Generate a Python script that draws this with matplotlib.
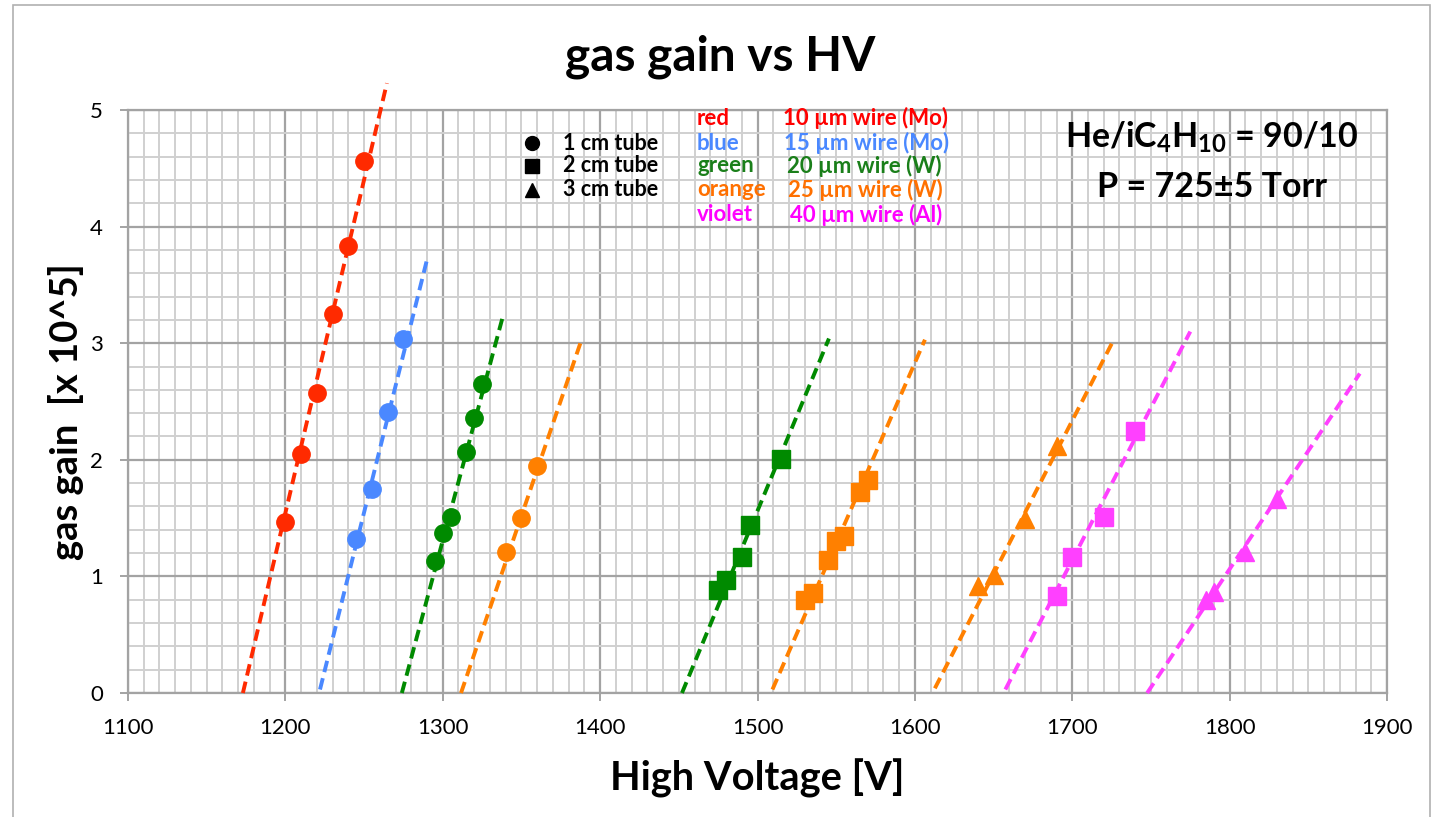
import numpy as np
import matplotlib.pyplot as plt
from matplotlib.patches import Rectangle
from matplotlib.ticker import MultipleLocator

plt.rcParams['font.family'] = ['Lato', 'DejaVu Sans']
plt.rcParams['mathtext.fontset'] = 'custom'
plt.rcParams['mathtext.rm'] = 'Lato:bold'
plt.rcParams['mathtext.it'] = 'Lato:bold'
plt.rcParams['mathtext.bf'] = 'Lato:bold'

# measured points: high voltage [V] and gas gain [x 10^5]
red_circ_v = [1200, 1210, 1220, 1230, 1240, 1250]
red_circ_g = [1.47, 2.05, 2.57, 3.25, 3.83, 4.56]

blue_circ_v = [1245, 1255, 1265, 1275]
blue_circ_g = [1.32, 1.75, 2.41, 3.04]

green_circ_v = [1295, 1300, 1305, 1315, 1320, 1325]
green_circ_g = [1.13, 1.37, 1.51, 2.07, 2.36, 2.65]

orange_circ_v = [1340, 1350, 1360]
orange_circ_g = [1.21, 1.50, 1.95]

green_sq_v = [1475, 1480, 1490, 1495, 1515]
green_sq_g = [0.88, 0.97, 1.17, 1.44, 2.01]

orange_sq_v = [1530, 1535, 1545, 1550, 1555, 1565, 1570]
orange_sq_g = [0.80, 0.86, 1.14, 1.30, 1.35, 1.72, 1.83]

orange_tri_v = [1640, 1650, 1670, 1690]
orange_tri_g = [0.92, 1.01, 1.49, 2.12]

violet_sq_v = [1690, 1700, 1720, 1740]
violet_sq_g = [0.83, 1.17, 1.51, 2.25]

violet_tri_v = [1785, 1790, 1810, 1830]
violet_tri_g = [0.80, 0.87, 1.21, 1.66]

# linear trendlines (start / end)
red_circ_fit_v, red_circ_fit_g = [1173, 1264.5], [0.0, 5.23]
blue_circ_fit_v, blue_circ_fit_g = [1222, 1290.6], [0.03, 3.75]
green_circ_fit_v, green_circ_fit_g = [1274, 1337.8], [0.0, 3.21]
orange_circ_fit_v, orange_circ_fit_g = [1311.6, 1388.2], [0.0, 3.03]
green_sq_fit_v, green_sq_fit_g = [1452, 1545.4], [0.0, 3.04]
orange_sq_fit_v, orange_sq_fit_g = [1509.5, 1606.4], [0.03, 3.03]
orange_tri_fit_v, orange_tri_fit_g = [1612.7, 1726], [0.04, 3.02]
violet_sq_fit_v, violet_sq_fit_g = [1657.5, 1775], [0.03, 3.10]
violet_tri_fit_v, violet_tri_fit_g = [1747.6, 1882.7], [0.0, 2.74]

RED = '#ff2a00'
BLUE = '#4a88ff'
GREEN = '#008a00'
ORANGE = '#ff8000'
VIOLET = '#ff40ff'

series = [
    (red_circ_v, red_circ_g, red_circ_fit_v, red_circ_fit_g, RED, 'o'),
    (blue_circ_v, blue_circ_g, blue_circ_fit_v, blue_circ_fit_g, BLUE, 'o'),
    (green_circ_v, green_circ_g, green_circ_fit_v, green_circ_fit_g, GREEN, 'o'),
    (orange_circ_v, orange_circ_g, orange_circ_fit_v, orange_circ_fit_g, ORANGE, 'o'),
    (green_sq_v, green_sq_g, green_sq_fit_v, green_sq_fit_g, GREEN, 's'),
    (orange_sq_v, orange_sq_g, orange_sq_fit_v, orange_sq_fit_g, ORANGE, 's'),
    (orange_tri_v, orange_tri_g, orange_tri_fit_v, orange_tri_fit_g, ORANGE, '^'),
    (violet_sq_v, violet_sq_g, violet_sq_fit_v, violet_sq_fit_g, VIOLET, 's'),
    (violet_tri_v, violet_tri_g, violet_tri_fit_v, violet_tri_fit_g, VIOLET, '^'),
]

fig = plt.figure(figsize=(14.41, 8.17), dpi=100)
ax = fig.add_axes([128 / 1441, 1 - 693 / 817, 1259 / 1441, 583 / 817])

for v, g, fv, fg, col, mk in series:
    ax.plot(fv, fg, ls=(0, (3, 1.6)), lw=2.8, color=col, zorder=3, clip_on=False)
    ax.plot(v, g, ls='none', marker=mk, ms=12.5, color=col, mec=col, zorder=4)

ax.set_xlim(1100, 1900)
ax.set_ylim(0, 5)
ax.xaxis.set_major_locator(MultipleLocator(100))
ax.xaxis.set_minor_locator(MultipleLocator(10))
ax.yaxis.set_major_locator(MultipleLocator(1))
ax.yaxis.set_minor_locator(MultipleLocator(0.2))
ax.grid(which='minor', color='#d0d0d0', lw=1.4, zorder=0)
ax.grid(which='major', color='#a3a3a3', lw=1.6, zorder=1)
ax.set_axisbelow(True)
for sp in ax.spines.values():
    sp.set_color('#a3a3a3')
    sp.set_linewidth(1.6)
ax.tick_params(which='major', length=6, width=1.4, color='#a3a3a3', labelsize=16, pad=12)
ax.tick_params(which='minor', length=0)

ax.set_xlabel('High Voltage [V]', fontsize=28.7, fontweight='bold', va='center')
ax.set_ylabel('gas gain  [x 10^5]', fontsize=27.5, fontweight='bold', va='center')
ax.xaxis.set_label_coords(0.5, -0.146)
ax.yaxis.set_label_coords(-0.049, 0.482)

fig.text(0.5, 0.930, 'gas gain vs HV', fontsize=34.5, fontweight='bold', ha='center', va='center')

# marker shape legend
shape_labels = ['1 cm tube', '2 cm tube', '3 cm tube']
shape_marks = ['o', 's', '^']
shape_y = [0.943, 0.904, 0.863]
for lab, mk, yy in zip(shape_labels, shape_marks, shape_y):
    ax.plot([0.321], [yy], marker=mk, ms=10, color='black', transform=ax.transAxes,
            clip_on=False, zorder=5)
    ax.text(0.3455, yy, lab, transform=ax.transAxes, fontsize=15.5, fontweight='bold',
            va='center', ha='left')

# colour legend
colour_names = ['red', 'blue', 'green', 'orange', 'violet']
wire_labels = ['10 µm wire (Mo)', '15 µm wire (Mo)', '20 µm wire (W)',
               '25 µm wire (W)', '40 µm wire (Al)']
text_colours = ['#ff0000', '#4a88ff', '#1a7f1a', '#ff7000', '#ff00ff']
colour_y = [0.986, 0.943, 0.904, 0.863, 0.820]
wire_x = [0.520, 0.521, 0.5234, 0.524, 0.5258]
for name, wire, col, yy, wx in zip(colour_names, wire_labels, text_colours, colour_y, wire_x):
    ax.text(0.452, yy, name, transform=ax.transAxes, fontsize=16, fontweight='bold',
            color=col, va='center', ha='left')
    ax.text(wx, yy, wire, transform=ax.transAxes, fontsize=16, fontweight='bold',
            color=col, va='center', ha='left')

ax.text(0.861, 0.954, r'He/iC$_4$H$_{10}$ = 90/10', transform=ax.transAxes,
        fontsize=24.5, fontweight='bold', ha='center', va='center')
ax.text(0.861, 0.868, 'P = 725±5 Torr', transform=ax.transAxes,
        fontsize=24.5, fontweight='bold', ha='center', va='center')

# chart frame
fig.add_artist(Rectangle((13 / 1441, -0.05), (1430 - 13) / 1441, 1.05 - 5 / 817,
                         transform=fig.transFigure, fill=False, ec='#b0b0b0', lw=1.2))

fig.savefig('out.png', dpi=100)
